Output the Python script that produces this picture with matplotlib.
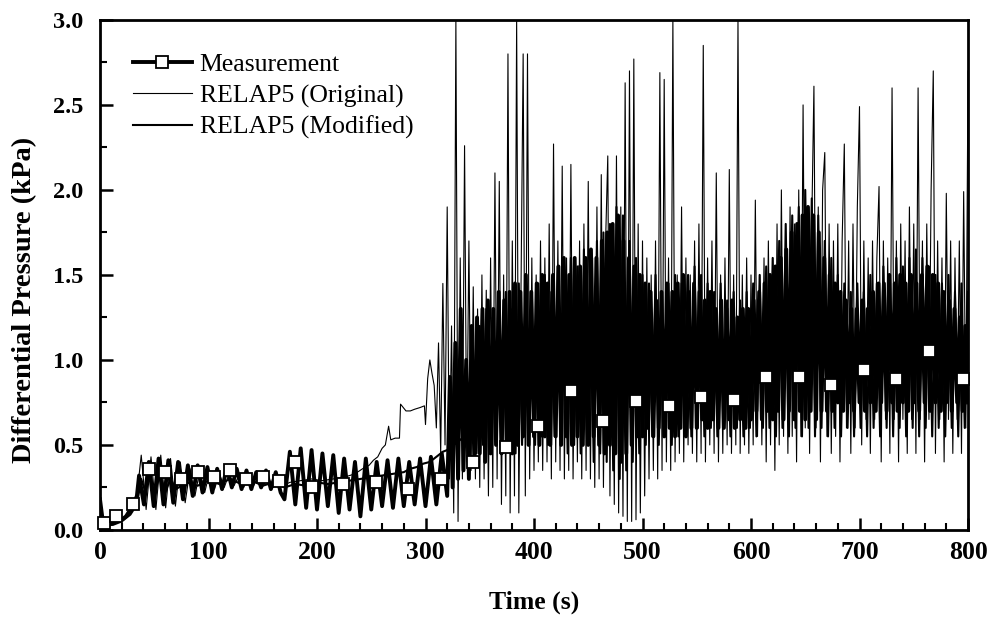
import numpy as np
import matplotlib
matplotlib.use("Agg")
import matplotlib.pyplot as plt
from matplotlib.lines import Line2D

plt.rcParams['font.family'] = ['Liberation Serif', 'DejaVu Serif']

# ---------------- Measurement ----------------
meas_head_t = [0, 2, 4, 8, 12, 16, 20, 24, 28, 31, 34]
meas_head_v = [0.18, 0.08, 0.04, 0.03, 0.04, 0.07, 0.06, 0.08, 0.12, 0.15, 0.20]
meas_osc1_start, meas_osc1_step = 36.0, 4.5
meas_osc1_v = [0.32, 0.15, 0.40, 0.14, 0.42, 0.15, 0.41, 0.16, 0.40, 0.18,
               0.38, 0.20, 0.38, 0.22, 0.37, 0.22, 0.36, 0.24, 0.37, 0.25,
               0.36, 0.24, 0.35, 0.24, 0.34, 0.25, 0.35, 0.24, 0.34, 0.22]
meas_osc2_start, meas_osc2_step = 170.0, 5.0
meas_osc2_v = [0.18, 0.46, 0.15, 0.48, 0.13, 0.47, 0.12, 0.45, 0.14, 0.44,
               0.10, 0.42, 0.12, 0.40, 0.08, 0.42, 0.12, 0.40, 0.14, 0.41,
               0.13, 0.42, 0.14, 0.40, 0.15, 0.42, 0.14, 0.43, 0.15, 0.45, 0.20]
meas_chaos_start, meas_chaos_step = 322.5, 2.5
meas_chaos_v = [
    0.90, 0.25, 1.10, 0.30, 1.30, 0.35, 1.00, 0.30, 1.20, 0.40,
    1.25, 0.45, 1.30, 0.40, 1.35, 0.45, 1.30, 0.50, 1.40, 0.45,
    1.35, 0.50, 1.40, 0.45, 1.45, 0.50, 1.40, 0.55, 1.50, 0.50,
    1.40, 0.55, 1.45, 0.50, 1.50, 0.55, 1.45, 0.50, 1.50, 0.55,
    1.55, 0.50, 1.60, 0.55, 1.50, 0.50, 1.60, 0.55, 1.55, 0.50,
    1.60, 0.50, 1.65, 0.55, 1.60, 0.50, 1.70, 0.45, 1.75, 0.50,
    1.80, 0.45, 1.85, 0.40, 1.70, 0.45, 1.60, 0.50, 1.55, 0.55,
    1.50, 0.55, 1.45, 0.60, 1.40, 0.55, 1.35, 0.60, 1.40, 0.55,
    1.45, 0.60, 1.40, 0.55, 1.45, 0.60, 1.50, 0.55, 1.40, 0.60,
    1.45, 0.60, 1.40, 0.65, 1.35, 0.60, 1.40, 0.65, 1.30, 0.60,
    1.35, 0.60, 1.30, 0.65, 1.35, 0.60, 1.25, 0.65, 1.30, 0.60,
    1.30, 0.65, 1.35, 0.70, 1.40, 0.65, 1.45, 0.70, 1.50, 0.65,
    1.55, 0.70, 1.60, 0.65, 1.65, 0.70, 1.75, 0.65, 1.80, 0.70,
    1.85, 0.65, 1.90, 0.70, 1.85, 0.65, 1.75, 0.70, 1.60, 0.70,
    1.50, 0.70, 1.45, 0.75, 1.40, 0.70, 1.35, 0.75, 1.30, 0.70,
    1.30, 0.75, 1.35, 0.70, 1.30, 0.75, 1.40, 0.70, 1.45, 0.75,
    1.45, 0.70, 1.50, 0.75, 1.45, 0.70, 1.50, 0.75, 1.45, 0.70,
    1.50, 0.75, 1.45, 0.70, 1.50, 0.75, 1.55, 0.70, 1.50, 0.75,
    1.45, 0.70, 1.40, 0.75, 1.35, 0.70, 1.30, 0.75, 1.25, 0.70,
    1.20, 0.75]

# measurement symbols
mark_t = [4, 15, 30, 45, 60, 75, 90, 105, 120, 135, 150, 165, 180, 195,
          224, 254, 284, 314, 344, 374, 404, 434, 464, 494, 524, 554, 584,
          614, 644, 674, 704, 734, 764, 795]
mark_v = [0.04, 0.08, 0.15, 0.36, 0.34, 0.30, 0.34, 0.31, 0.35, 0.30,
          0.31, 0.29, 0.40, 0.25, 0.27, 0.28, 0.24, 0.30, 0.40, 0.49,
          0.61, 0.82, 0.64, 0.76, 0.73, 0.78, 0.765, 0.90, 0.90, 0.85,
          0.94, 0.89, 1.05, 0.89]

# ---------------- RELAP5 (Original) ----------------
orig_head_t = [0, 3, 8, 15, 22, 28, 33]
orig_head_v = [0.12, 0.04, 0.03, 0.04, 0.06, 0.10, 0.14]
orig_osc_start, orig_osc_step = 38.0, 4.5
orig_osc_v = [0.44, 0.12, 0.43, 0.12, 0.44, 0.13, 0.42, 0.14, 0.40, 0.16,
              0.36, 0.20, 0.35, 0.22, 0.34, 0.24, 0.33, 0.25, 0.33, 0.26,
              0.32, 0.25, 0.32, 0.26, 0.31, 0.26, 0.31, 0.25, 0.30, 0.26]
orig_rise_t = [175, 185, 195, 205, 215, 225, 235, 242, 248, 252, 256, 260,
               263, 266, 268, 272, 276, 277, 282, 286, 290, 295, 299, 300,
               302, 304, 306]
orig_rise_v = [0.28, 0.29, 0.30, 0.29, 0.30, 0.31, 0.33, 0.36, 0.38, 0.41,
               0.43, 0.48, 0.50, 0.61, 0.53, 0.54, 0.54, 0.74, 0.70, 0.70,
               0.71, 0.72, 0.73, 0.62, 0.89, 1.00, 0.92]
orig_chaos_start, orig_chaos_step = 308.0, 2.0
orig_chaos_v = [
    0.85, 0.60, 1.10, 0.45, 1.45, 0.50, 1.90, 0.30, 1.20, 0.10,
    3.00, 0.05, 1.60, 0.30, 2.26, 0.40, 1.70, 0.35, 1.43, 0.30,
    1.30, 0.25, 1.50, 0.30, 1.41, 0.20, 1.60, 0.25, 2.10, 0.30,
    2.05, 0.15, 1.50, 0.20, 2.80, 0.10, 1.70, 0.20, 3.00, 0.10,
    1.40, 2.80, 0.20, 2.80, 0.30, 1.60, 0.35, 1.50, 0.40, 1.70,
    0.35, 1.60, 0.40, 1.80, 0.30, 2.27, 0.40, 1.70, 0.35, 2.14,
    0.30, 1.60, 0.35, 2.15, 0.30, 1.50, 0.40, 1.70, 0.30, 1.80,
    0.35, 2.05, 0.30, 1.60, 0.25, 1.90, 0.30, 2.09, 0.25, 1.70,
    2.20, 0.20, 1.80, 0.15, 2.20, 0.10, 1.90, 0.08, 2.63, 0.05,
    2.70, 0.05, 2.77, 0.06, 1.80, 0.10, 1.70, 0.20, 1.60, 0.30,
    1.50, 0.35, 1.70, 0.30, 2.69, 0.35, 2.65, 0.40, 1.60, 0.35,
    3.00, 0.40, 1.50, 0.45, 1.90, 0.40, 1.60, 0.50, 1.50, 0.45,
    1.70, 0.40, 1.80, 0.45, 2.85, 0.40, 1.60, 0.50, 1.70, 0.45,
    2.10, 0.40, 1.50, 0.45, 1.60, 0.50, 2.12, 0.45, 1.50, 0.50,
    3.00, 0.45, 1.50, 0.50, 1.60, 0.45, 1.50, 0.50, 1.94, 0.55,
    1.50, 0.50, 1.60, 0.40, 1.70, 0.50, 1.60, 0.35, 1.80, 0.50,
    2.00, 0.55, 1.70, 0.45, 1.90, 0.55, 1.80, 0.40, 2.00, 0.55,
    2.50, 0.60, 1.90, 0.45, 1.80, 2.61, 0.60, 1.90, 0.40, 2.00,
    2.22, 0.55, 1.80, 0.45, 1.70, 0.55, 1.80, 0.40, 1.70, 2.27,
    0.60, 1.70, 0.45, 1.80, 0.60, 1.90, 2.49, 0.50, 1.70, 0.65,
    1.60, 0.45, 1.70, 0.65, 1.60, 2.02, 0.40, 1.70, 0.65, 1.60,
    0.45, 2.60, 0.65, 1.70, 0.40, 1.80, 0.65, 1.70, 0.45, 1.90,
    0.65, 1.80, 0.45, 2.60, 0.65, 1.70, 0.40, 1.80, 0.65, 2.00,
    2.70, 0.45, 1.70, 0.65, 1.60, 0.40, 1.98, 0.65, 1.70, 0.45,
    1.60, 0.65, 1.70, 0.45, 1.99, 0.60, 2.70]

# ---------------- RELAP5 (Modified) ----------------
mod_head_t = [0, 4, 12, 20, 28, 34, 38, 42, 46, 50, 55, 60, 65, 70, 80, 90,
              100, 110, 120, 130, 140, 150, 160, 170, 180, 190, 200, 210,
              220, 230, 240, 250, 260, 270, 280, 286, 292, 298, 304, 310,
              316, 320, 326, 332, 338, 342]
mod_head_v = [0.10, 0.03, 0.03, 0.05, 0.09, 0.15, 0.30, 0.22, 0.35, 0.20,
              0.33, 0.22, 0.30, 0.24, 0.28, 0.26, 0.29, 0.27, 0.30, 0.27,
              0.29, 0.26, 0.28, 0.25, 0.27, 0.26, 0.28, 0.27, 0.28, 0.29,
              0.30, 0.31, 0.32, 0.33, 0.34, 0.36, 0.37, 0.39, 0.40, 0.43,
              0.46, 0.47, 0.50, 0.53, 0.56, 0.59]
mod_chaos_start, mod_chaos_step = 344.0, 3.0
mod_chaos_v = [
    1.00, 0.45, 1.20, 0.50, 1.30, 0.45, 1.25, 0.50, 1.35, 0.45,
    1.40, 0.50, 1.30, 0.45, 1.45, 0.50, 1.35, 0.55, 1.40, 0.50,
    1.45, 0.55, 1.50, 0.50, 1.40, 0.55, 1.55, 0.50, 1.50, 0.45,
    1.60, 0.50, 1.55, 0.45, 1.65, 0.50, 1.60, 0.40, 1.70, 0.45,
    1.75, 0.40, 1.80, 0.35, 1.90, 0.30, 1.85, 0.35, 1.70, 0.40,
    1.60, 0.45, 1.50, 0.50, 1.45, 0.55, 1.50, 0.50, 1.40, 0.55,
    1.45, 0.50, 1.50, 0.55, 1.45, 0.60, 1.50, 0.55, 1.55, 0.60,
    1.50, 0.55, 1.45, 0.60, 1.40, 0.55, 1.45, 0.60, 1.35, 0.55,
    1.40, 0.60, 1.35, 0.55, 1.40, 0.60, 1.45, 0.55, 1.50, 0.60,
    1.55, 0.60, 1.60, 0.55, 1.70, 0.60, 1.80, 0.55, 1.85, 0.60,
    1.90, 0.55, 2.00, 0.60, 1.95, 0.55, 1.85, 0.60, 1.70, 0.55,
    1.60, 0.60, 1.50, 0.55, 1.45, 0.60, 1.40, 0.55, 1.45, 0.60,
    1.40, 0.55, 1.50, 0.60, 1.45, 0.55, 1.55, 0.60, 1.50, 0.55,
    1.60, 0.60, 1.55, 0.55, 1.60, 0.60, 1.65, 0.55, 1.60, 0.60,
    1.55, 0.55, 1.50, 0.60, 1.45, 0.55, 1.50, 0.60, 1.40, 0.55,
    1.45, 0.60, 1.40]

x_ticks = [0, 100, 200, 300, 400, 500, 600, 700, 800]
y_ticks = [0.0, 0.5, 1.0, 1.5, 2.0, 2.5, 3.0]


def grid(start, step, vals):
    return start + step * np.arange(len(vals))


meas_t = np.concatenate([meas_head_t,
                         grid(meas_osc1_start, meas_osc1_step, meas_osc1_v),
                         grid(meas_osc2_start, meas_osc2_step, meas_osc2_v),
                         grid(meas_chaos_start, meas_chaos_step, meas_chaos_v)])
meas_v = np.concatenate([meas_head_v, meas_osc1_v, meas_osc2_v, meas_chaos_v])

orig_t = np.concatenate([orig_head_t,
                         grid(orig_osc_start, orig_osc_step, orig_osc_v),
                         orig_rise_t,
                         grid(orig_chaos_start, orig_chaos_step, orig_chaos_v)])
orig_v = np.concatenate([orig_head_v, orig_osc_v, orig_rise_v, orig_chaos_v])

mod_t = np.concatenate([mod_head_t, grid(mod_chaos_start, mod_chaos_step, mod_chaos_v)])
mod_v = np.concatenate([mod_head_v, mod_chaos_v])

fig = plt.figure(figsize=(10, 6.22), dpi=100)
ax = fig.add_axes([0.100, 0.148, 0.868, 0.820])

ax.plot(orig_t, orig_v, color='black', lw=0.8, zorder=2)
ax.plot(mod_t, mod_v, color='black', lw=1.5, zorder=3)
ax.plot(meas_t, meas_v, color='black', lw=2.8, zorder=4)
ax.plot(mark_t, mark_v, ls='none', marker='s', ms=9, mfc='white',
        mec='black', mew=1.3, zorder=6, clip_on=False)

ax.set_xlim(0, 800)
ax.set_ylim(0, 3.0)
ax.set_xticks(x_ticks)
ax.set_xticklabels([str(v) for v in x_ticks])
ax.set_yticks(y_ticks)
ax.set_yticklabels([f"{v:.1f}" for v in y_ticks])
ax.set_xticks(np.arange(0, 801, 20), minor=True)
ax.set_yticks(np.arange(0, 3.01, 0.25), minor=True)
ax.tick_params(which='major', direction='in', length=9, width=1.8,
               top=False, right=False)
ax.tick_params(which='minor', direction='in', length=5, width=1.5,
               top=False, right=False)
ax.tick_params(axis='x', which='major', labelsize=18.5, pad=8)
ax.tick_params(axis='y', which='major', labelsize=17.5, pad=12)
for lab in ax.get_xticklabels() + ax.get_yticklabels():
    lab.set_fontweight('bold')
for sp in ax.spines.values():
    sp.set_linewidth(2.0)

ax.set_xlabel('Time (s)', fontsize=18.5, fontweight='bold')
ax.set_ylabel('Differential Pressure (kPa)', fontsize=20.5, fontweight='bold')
ax.xaxis.set_label_coords(0.5, -0.118)
ax.yaxis.set_label_coords(-0.073, 0.451)

handles = [
    Line2D([], [], color='black', lw=2.8, marker='s', ms=9, mfc='white', mec='black', mew=1.3),
    Line2D([], [], color='black', lw=0.8),
    Line2D([], [], color='black', lw=1.5),
]
labels = ['Measurement', 'RELAP5 (Original)', 'RELAP5 (Modified)']
ax.legend(handles, labels, loc='upper left', bbox_to_anchor=(0.02, 0.966),
          frameon=False, fontsize=18.5, handlelength=2.3, handletextpad=0.3,
          labelspacing=0.33, borderaxespad=0.2)

fig.savefig('out.png', dpi=100)
